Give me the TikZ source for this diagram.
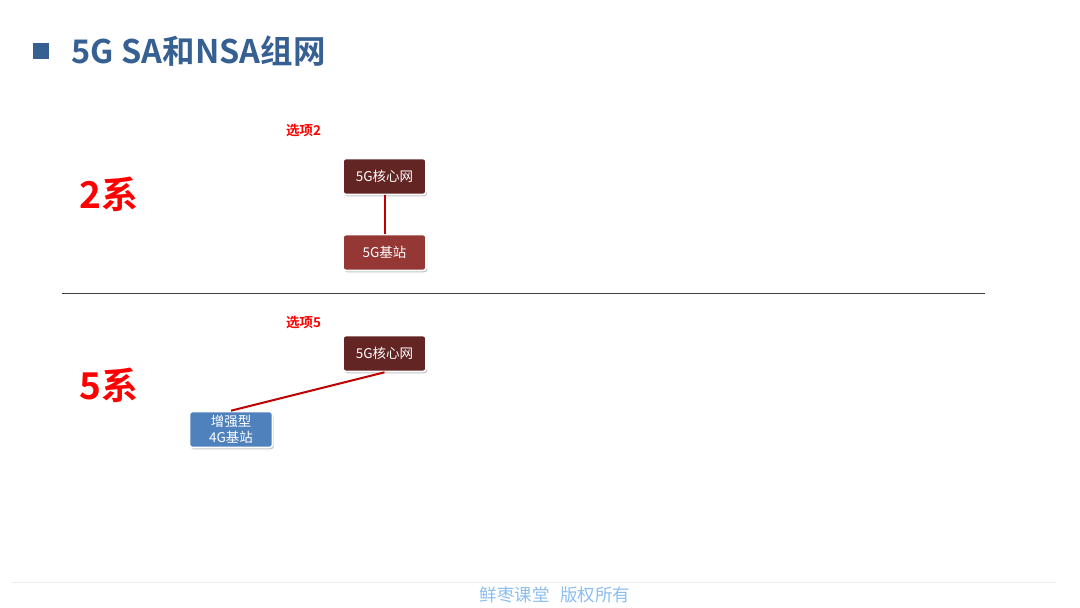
\documentclass[tikz,border=0pt]{standalone}
\usepackage{fontspec}
\setmainfont{Noto Sans CJK SC}[BoldFont={Noto Sans CJK SC Bold}]
\usetikzlibrary{shadows}
\definecolor{titleblue}{RGB}{54,96,146}
\definecolor{corered}{RGB}{99,37,35}
\definecolor{basered}{RGB}{149,55,53}
\definecolor{ltered}{RGB}{79,129,189}
\definecolor{linkred}{RGB}{192,0,0}
\definecolor{footblue}{RGB}{140,190,240}
\tikzset{
  netbox/.style={draw=white, line width=1.6pt, rounded corners=3pt, minimum width=83pt, minimum height=36pt,
    text=white, font=\fontsize{13.5}{15}\selectfont, align=center, inner sep=1pt,
    drop shadow={shadow xshift=1.2pt, shadow yshift=-1.8pt, opacity=0.45}},
  link/.style={draw=linkred, line width=2pt},
  option/.style={text=red, font=\bfseries\fontsize{13.5}{15}\selectfont},
  series/.style={text=red, font=\bfseries\fontsize{37}{40}\selectfont}
}
\begin{document}
\begin{tikzpicture}[x=1pt,y=-1pt]
\useasboundingbox[fill=white] (0,0) rectangle (1080,608);
\fill[titleblue] (33,43) rectangle (49,59);
\node[anchor=west, text=titleblue, font=\bfseries\fontsize{32.5}{34}\selectfont, inner sep=0pt] (title) at (71.5,51) {5G SA和NSA组网};
\node[option] (opt2) at (303.5,130) {选项2};
\node[series] (s2) at (109,194) {2系};
\node[netbox, fill=corered] (core1) at (384.5,176.5) {5G核心网};
\node[netbox, fill=basered] (bs1) at (384.5,252.5) {5G基站};
\draw[link] (core1.south) -- (bs1.north);
\coordinate (hl) at (62,293);
\coordinate (hr) at (985,293);
\draw[black!75, line width=0.7pt] (hl) -- (hr);
\node[option] (opt5) at (303.5,322) {选项5};
\node[series] (s5) at (109,385) {5系};
\node[netbox, fill=corered] (core2) at (384.5,353.5) {5G核心网};
\node[netbox, fill=ltered, font=\fontsize{13.5}{16}\selectfont] (lte) at (231,429.5) {增强型\\4G基站};
\draw[link] (core2.south) -- (lte.north);
\coordinate (fl) at (12,582);
\coordinate (fr) at (1056,582);
\draw[black!8, line width=0.8pt] (fl) -- (fr);
\node[text=footblue, font=\fontsize{17.5}{19}\selectfont] (foot) at (555,595) {鲜枣课堂\hspace{0.6em}版权所有};
\end{tikzpicture}
\end{document}
